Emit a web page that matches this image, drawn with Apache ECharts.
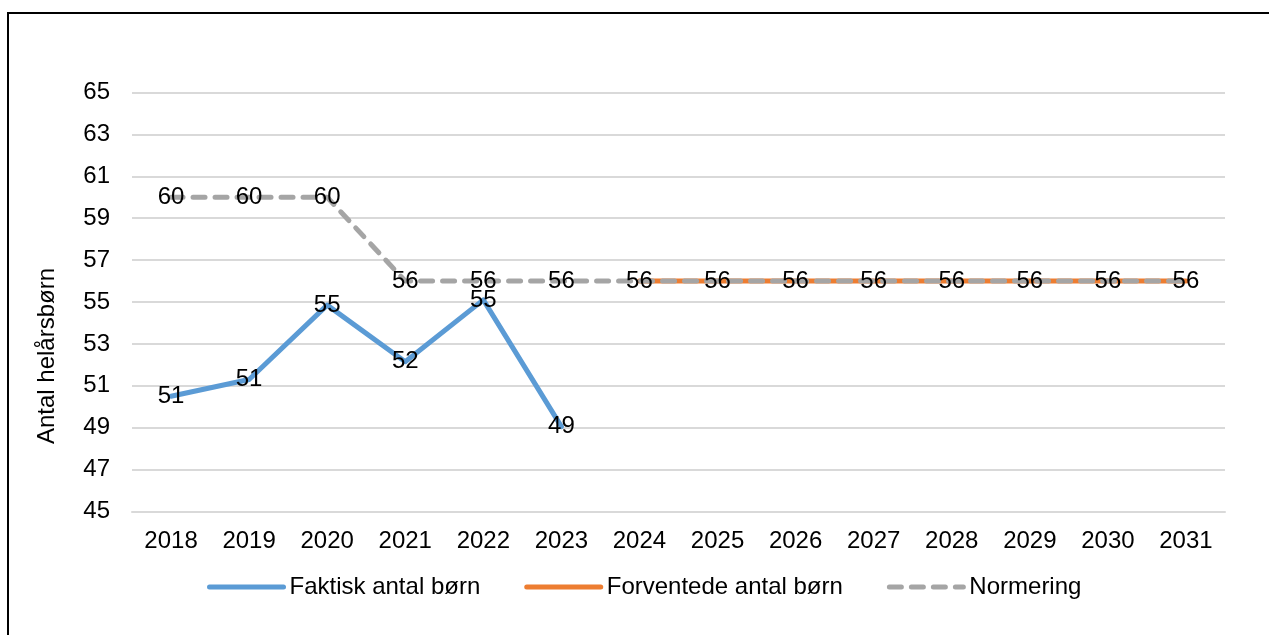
<!DOCTYPE html>
<html>
<head>
<meta charset="utf-8">
<script src="https://cdn.jsdelivr.net/npm/echarts@6/dist/echarts.min.js"></script>
<style>
html, body { margin: 0; padding: 0; background: #fff; overflow: hidden; }
#myChart { width: 1269px; height: 635px; }
</style>
</head>
<body>
<div id="myChart"></div>
<script>
// x-axis years
var years = ['2018', '2019', '2020', '2021', '2022', '2023', '2024', '2025', '2026', '2027', '2028', '2029', '2030', '2031'];
// Faktisk antal børn (labels are rounded)
var faktisk = [50.5, 51.3, 54.85, 52.15, 55.1, 49.05, null, null, null, null, null, null, null, null];
// Forventede antal børn
var forventede = [null, null, null, null, null, null, 56, 56, 56, 56, 56, 56, 56, 56];
// Normering
var normering = [60, 60, 60, 56, 56, 56, 56, 56, 56, 56, 56, 56, 56, 56];

var seriesNames = ['Faktisk antal børn', 'Forventede antal børn', 'Normering'];
var fontFam = '"Liberation Sans", Arial, sans-serif';

var charts = echarts.init(document.getElementById('myChart'));

// labels centred on the point, like excel
function label(show) {
    return {
        show: show,
        position: 'inside',
        color: '#000',
        fontSize: 24,
        fontFamily: fontFam,
        formatter: function (p) {
            return Math.round(p.value);
        }
    };
}

var opt = {
    animation: false,
    backgroundColor: '#fff',
    textStyle: { fontFamily: fontFam },
    graphic: [{
        // outer frame, only top/left are inside the picture
        type: 'rect',
        shape: { x: 8, y: 13, width: 1400, height: 800 },
        style: { fill: 'none', stroke: '#000', lineWidth: 2 },
        silent: true
    }],
    grid: {
        left: 132,
        right: 44,
        top: 92.5,
        bottom: 123.5
    },
    legend: {
        data: seriesNames,
        left: 202,
        top: 570,
        itemWidth: 74,
        itemHeight: 24,
        itemGap: 44,
        itemStyle: { opacity: 0 },
        lineStyle: { width: 5, cap: 'round' },
        textStyle: {
            color: '#000',
            fontSize: 24,
            fontFamily: fontFam,
            padding: [0, 0, 0, 1]
        }
    },
    xAxis: {
        type: 'category',
        data: years,
        boundaryGap: true,
        axisLine: { lineStyle: { color: '#d9d9d9', width: 2 } },
        axisTick: { show: false },
        axisLabel: {
            color: '#000',
            fontSize: 24,
            fontFamily: fontFam,
            margin: 18
        }
    },
    yAxis: {
        type: 'value',
        min: 45,
        max: 65,
        interval: 2,
        name: 'Antal helårsbørn',
        nameLocation: 'middle',
        nameGap: 73,
        nameTextStyle: {
            color: '#000',
            fontSize: 24,
            fontFamily: fontFam,
            padding: [0, 108, 0, 0]
        },
        axisLine: { show: false },
        axisTick: { show: false },
        axisLabel: {
            color: '#000',
            fontSize: 24,
            fontFamily: fontFam,
            margin: 22
        },
        splitLine: { lineStyle: { color: '#d9d9d9', width: 2 } }
    },
    series: [{
        name: seriesNames[0],
        type: 'line',
        data: faktisk,
        symbol: 'circle',
        symbolSize: 0,
        showSymbol: true,
        lineStyle: { color: '#5b9bd5', width: 5, cap: 'round', join: 'round' },
        itemStyle: { color: '#5b9bd5' },
        label: label(true),
        z: 3
    }, {
        name: seriesNames[1],
        type: 'line',
        data: forventede,
        symbol: 'none',
        lineStyle: { color: '#ed7d31', width: 5, cap: 'round' },
        itemStyle: { color: '#ed7d31' },
        label: label(false),
        z: 2
    }, {
        name: seriesNames[2],
        type: 'line',
        data: normering,
        symbol: 'circle',
        symbolSize: 0,
        showSymbol: true,
        lineStyle: { color: '#a5a5a5', width: 5, type: [12, 10], cap: 'round' },
        itemStyle: { color: '#a5a5a5' },
        label: label(true),
        z: 4
    }]
};
charts.setOption(opt);
window.addEventListener('resize', function () {
    charts.resize();
});
</script>
</body>
</html>
